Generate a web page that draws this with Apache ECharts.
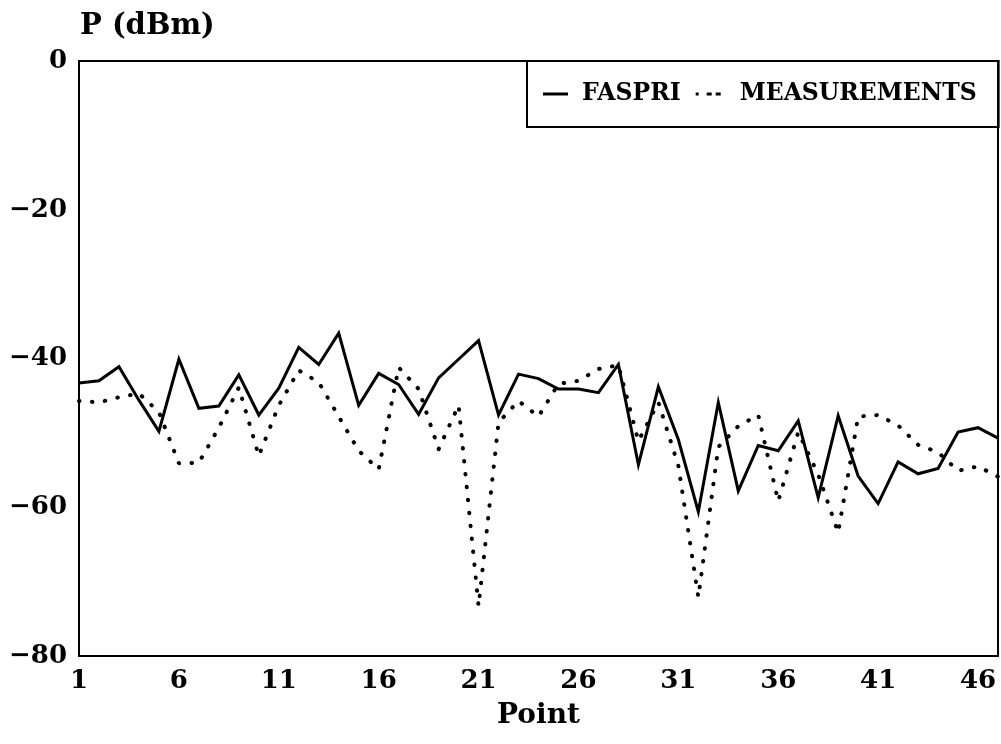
<!DOCTYPE html>
<html>
<head>
<meta charset="utf-8">
<script src="https://cdn.jsdelivr.net/npm/echarts@6/dist/echarts.min.js"></script>
<style>
  html, body { margin: 0; padding: 0; background: #fff; }
  #chart { width: 1001px; height: 744px; }
</style>
</head>
<body>
<div id="chart"></div>
<script>
// point numbers along the x axis
const points = [1, 2, 3, 4, 5, 6, 7, 8, 9, 10, 11, 12, 13, 14, 15, 16, 17, 18, 19, 20,
  21, 22, 23, 24, 25, 26, 27, 28, 29, 30, 31, 32, 33, 34, 35, 36, 37, 38, 39, 40,
  41, 42, 43, 44, 45, 46, 47];

// received power, dBm
const faspri = [-43.3, -43.0, -41.1, -45.6, -49.8, -40.1, -46.7, -46.4, -42.2, -47.6,
  -44.0, -38.5, -40.8, -36.6, -46.3, -42.0, -43.5, -47.5, -42.6, -40.1,
  -37.6, -47.6, -42.1, -42.7, -44.1, -44.1, -44.6, -40.8, -54.3, -43.8,
  -50.9, -60.6, -45.9, -57.8, -51.7, -52.4, -48.4, -58.7, -47.7, -55.8,
  -59.5, -53.9, -55.5, -54.8, -49.9, -49.3, -50.7];

const measurements = [-45.7, -45.9, -45.2, -44.7, -47.2, -54.1, -54.0, -49.3, -43.9, -53.1,
  -46.3, -41.6, -43.2, -47.8, -52.4, -54.9, -41.2, -44.1, -52.2, -46.3,
  -73.3, -48.6, -45.7, -47.8, -43.4, -43.0, -41.4, -40.9, -51.1, -45.9,
  -54.4, -72.1, -51.9, -49.1, -47.6, -59.2, -49.9, -55.6, -63.4, -47.8,
  -47.6, -49.0, -51.6, -52.6, -55.1, -54.5, -55.9];

const yTicks = { min: -80, max: 0, step: 20 };

const font = 'DejaVu Serif';

const chart = echarts.init(document.getElementById('chart'));
chart.setOption({
  animation: false,
  backgroundColor: '#fff',
  title: {
    text: 'P (dBm)',
    left: 75,
    top: 7,
    textStyle: { fontFamily: font, fontWeight: 'bold', fontSize: 29, color: '#000' }
  },
  legend: {
    orient: 'horizontal',
    left: 527,
    top: 61,
    width: 472,
    padding: [21, 22, 21, 16],
    itemGap: 15,
    itemWidth: 25,
    itemHeight: 3,
    borderColor: '#000',
    borderWidth: 2,
    textStyle: { fontFamily: font, fontWeight: 'bold', fontSize: 23.5, color: '#000', padding: [0, 0, 0, 9] },
    data: [
      { name: 'FASPRI', icon: 'rect' },
      {
        name: 'MEASUREMENTS',
        icon: 'path://M0,0h3v3h-3zM11,0h5v3h-5zM20,0h5v3h-5z',
        textStyle: { padding: [0, 0, 0, 14] }
      }
    ]
  },
  grid: {
    left: 79,
    right: 3,
    top: 61,
    bottom: 88,
    show: true,
    borderColor: '#000',
    borderWidth: 2
  },
  xAxis: {
    type: 'category',
    data: points,
    boundaryGap: false,
    name: 'Point',
    nameLocation: 'middle',
    nameGap: 46,
    nameTextStyle: { fontFamily: font, fontWeight: 'bold', fontSize: 28, color: '#000' },
    axisLine: { lineStyle: { color: '#000', width: 2 } },
    axisTick: { show: false },
    axisLabel: {
      interval: 4,
      margin: 12,
      fontFamily: font, fontWeight: 'bold', fontSize: 26, color: '#000'
    },
    splitLine: { show: false }
  },
  yAxis: {
    type: 'value',
    min: yTicks.min,
    max: yTicks.max,
    interval: yTicks.step,
    axisLine: { show: true, lineStyle: { color: '#000', width: 2 } },
    axisTick: { show: false },
    axisLabel: {
      margin: 12,
      fontFamily: font, fontWeight: 'bold', fontSize: 26, color: '#000',
      formatter: v => String(v).replace('-', '\u2212')
    },
    splitLine: { show: false }
  },
  series: [
    {
      name: 'FASPRI',
      type: 'line',
      data: faspri,
      symbol: 'none',
      lineStyle: { color: '#000', width: 3, join: 'miter' },
      itemStyle: { color: '#000' }
    },
    {
      name: 'MEASUREMENTS',
      type: 'line',
      data: measurements,
      symbol: 'none',
      lineStyle: { color: '#000', width: 4, type: [0.5, 12.5], cap: 'round' },
      itemStyle: { color: '#000' }
    }
  ]
});
</script>
</body>
</html>
